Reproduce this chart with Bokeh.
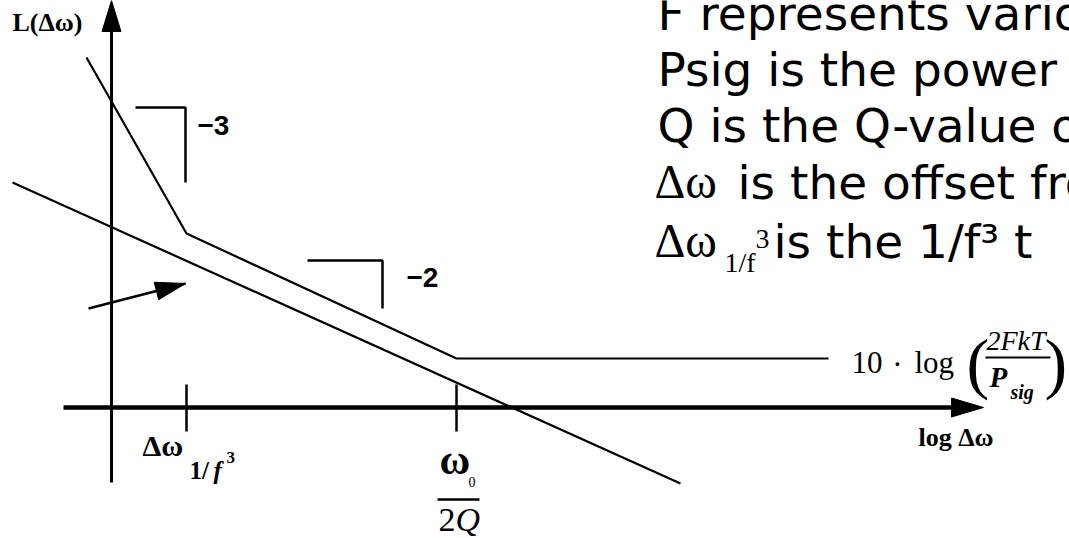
from bokeh.plotting import figure
from bokeh.models import Range1d
from bokeh.core.properties import value
from bokeh.embed import file_html
from bokeh.resources import INLINE

# Schematic coordinates: x = log(Δω) position, y = L(Δω) level,
# origin at the crossing of the two axes.

# Leeson phase-noise asymptote: -3 slope, -2 slope, then the flat floor
leeson_x = [-25, 75, 345, 717]
leeson_y = [350, 174, 49, 49]

# reference 1/f^2 line (no flicker corner, no floor)
ref_x = [-99, 569]
ref_y = [225, -76]

# corner frequencies marked on the log Δω axis
tick_x = [75, 345]
tick_names = ["dw_flicker", "w0_over_2Q"]

# slope indicators: [x_left, x_corner, y_top, y_bottom], label
slope3 = [24, 74, 300, 225]
slope2 = [196, 271, 147, 99]
slope_labels = ["\u22123", "\u22122"]

# axes extents
x_axis = [-48, 866]
y_axis = [-75, 400]

# pointer arrow to the reference line
pointer_x = [-23, 74]
pointer_y = [99, 124]

W, H = 1069, 538
X0, Y0 = 111, 407  # pixel position of the axis crossing

p = figure(width=W, height=H, output_backend="svg", toolbar_location=None,
           x_range=Range1d(-X0, W - X0), y_range=Range1d(Y0 - H, Y0),
           x_axis_type=None, y_axis_type=None, min_border=0)
p.grid.visible = False
p.outline_line_color = None
p.background_fill_color = "white"
p.border_fill_color = "white"

INK = "black"

# curves
p.line(leeson_x, leeson_y, line_color=INK, line_width=2.2)
p.line(ref_x, ref_y, line_color=INK, line_width=2.2)

# axes
p.line(x_axis, [0, 0], line_color=INK, line_width=4.5)
p.line([0, 0], y_axis, line_color=INK, line_width=3)


def head(tip_x, tip_y, dx, dy, length, width):
    n = (dx * dx + dy * dy) ** 0.5
    ux, uy = dx / n, dy / n
    bx, by = tip_x - ux * length, tip_y - uy * length
    px, py = -uy * width / 2, ux * width / 2
    p.patch([tip_x, bx + px, bx - px], [tip_y, by + py, by - py],
            fill_color=INK, line_color=INK, line_width=1)


head(x_axis[1] + 6, 0, 1, 0, 32, 19)
head(0, y_axis[1] + 7, 0, 1, 31, 19)

# ticks
for tx in tick_x:
    p.line([tx, tx], [23, -24], line_color=INK, line_width=2.5)

# slope markers
for s in [slope3, slope2]:
    p.line([s[0], s[1], s[1]], [s[2], s[2], s[3]], line_color=INK, line_width=2.5)

# pointer arrow
p.line(pointer_x, pointer_y, line_color=INK, line_width=2.5)
head(pointer_x[1], pointer_y[1], pointer_x[1] - pointer_x[0],
     pointer_y[1] - pointer_y[0], 30, 18)


def put(px, py, s, size, font="Liberation Serif", style="normal",
        align="left"):
    # py is the wanted baseline in pixels from the top; the svg text sits
    # about 0.37 em below its alphabetic anchor, so lift it by that much
    y = Y0 - (py - 0.37 * size)
    p.text(x=[px - X0], y=[y], text=[s], text_font=value(font),
           text_font_size=f"{size}px", text_font_style=style,
           text_align=align, text_baseline="alphabetic", text_color=INK)


# axis labels
put(12, 32, "L(\u0394\u03c9)", 26, style="bold")
put(918, 447, "log \u0394\u03c9", 26, style="bold")

# slope labels
put(197, 135, slope_labels[0], 28, font="Liberation Sans", style="bold")
put(406, 287, slope_labels[1], 28, font="Liberation Sans", style="bold")

# Δω_{1/f^3} tick label
put(142, 456, "\u0394\u03c9", 30, style="bold")
put(189, 479, "1/", 25, style="bold")
put(213, 479, "f", 25, style="bold italic")
put(226, 463, "3", 17, style="bold")

# ω0 / 2Q tick label
put(439, 475, "\u03c9", 42, style="bold")
put(468, 487, "0", 14)
p.line([437 - X0, 479 - X0], [Y0 - 499, Y0 - 499], line_color=INK, line_width=2.5)
put(438, 532, "2", 34)
put(455, 532, "Q", 34, style="italic")

# noise floor formula
put(851, 373, "10", 31)
put(897, 375, "\u00b7", 31, align="center")
put(914, 373, "log", 31)
put(966, 388, "(", 68)
put(986, 350, "2FkT", 28, style="italic")
p.line([985 - X0, 1050 - X0], [Y0 - 357, Y0 - 357], line_color=INK, line_width=2.2)
put(989, 387, "P", 29, style="bold italic")
put(1010, 399, "sig", 20, style="bold italic")
put(1044, 388, ")", 68)

# notes
SANS = "DejaVu Sans"
NOTE = 47
put(657, 30, "F represents various", NOTE, font=SANS)
put(657, 86, "Psig is the power in", NOTE, font=SANS)
put(657, 142, "Q is the Q-value of", NOTE, font=SANS)
put(654, 199, "\u0394\u03c9", 48)
put(737, 199, "is the offset from", NOTE, font=SANS)
put(654, 258, "\u0394\u03c9", 48)
put(724, 272, "1/f", 28)
put(755, 249, "3", 28)
put(773, 258, "is the 1/f\u00b3 t", NOTE, font=SANS)

open("out.html", "w").write(file_html(p, INLINE))
